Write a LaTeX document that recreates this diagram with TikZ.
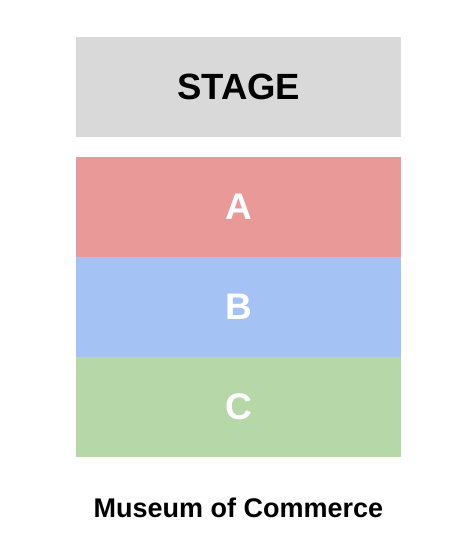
\documentclass[tikz,border=0pt]{standalone}
\usepackage{fontspec}
\setmainfont{Liberation Sans}
\definecolor{stagegray}{HTML}{D9D9D9}
\definecolor{secA}{HTML}{EA9999}
\definecolor{secB}{HTML}{A4C2F4}
\definecolor{secC}{HTML}{B6D7A8}
\begin{document}
\begin{tikzpicture}[x=1pt,y=-1pt,
  block/.style={draw=none,minimum width=325pt,minimum height=100pt,inner sep=0pt,anchor=north west},
  seclabel/.style={font=\bfseries\fontsize{37}{40}\selectfont,text=white},
]
\useasboundingbox (0,0) rectangle (475,552);
\node[block,fill=stagegray,font=\bfseries\fontsize{36.5}{40}\selectfont] (stage) at (76,37) {STAGE};
\node[block,fill=secA,seclabel] (a) at (76,157) {A};
\node[block,fill=secB,seclabel] (b) at (76,257) {B};
\node[block,fill=secC,seclabel] (c) at (76,357) {C};
\node[font=\bfseries\fontsize{27}{30}\selectfont] (title) at (238.5,508) {Museum of Commerce};
\end{tikzpicture}
\end{document}
